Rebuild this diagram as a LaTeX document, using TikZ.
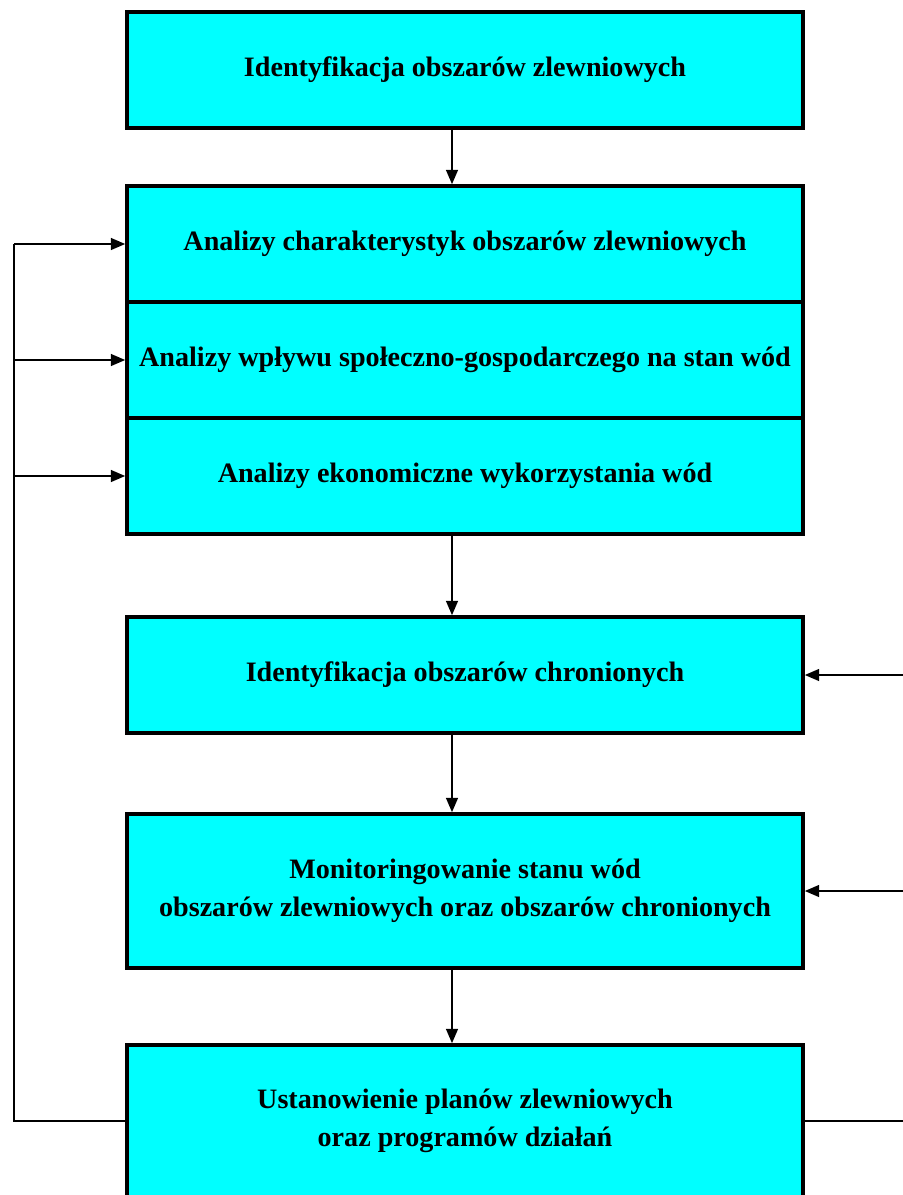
\documentclass[tikz,border=0pt]{standalone}
\usepackage{fontspec}
\setmainfont{Liberation Serif}
\usepackage{tikz}
\usetikzlibrary{arrows.meta, positioning, calc}
\definecolor{aqua}{RGB}{0,255,255}
\tikzset{
    stage/.style={
        rectangle, minimum width=16.9cm, minimum height=2.9cm,
        align=center, draw=black, fill=aqua, line width=2.6pt,
        font=\fontsize{20}{27}\selectfont\bfseries
    },
    flow/.style={
        line width=1.1pt, -{Triangle[length=0.36cm,width=0.3cm]}
    },
    straightline/.style = {line width = 1.1pt,-},
    point/.style={coordinate}
}
\begin{document}
\begin{tikzpicture}
        \clip (0,0) rectangle (22.575,-29.875);
        % stages
        \node [stage] (ident) at (11.625,-1.75) {Identyfikacja obszarów zlewniowych};
        \node [stage] (charakt) at (11.625,-6.1) {Analizy charakterystyk obszarów zlewniowych};
        \node [stage] (wplyw) at (11.625,-9.0) {Analizy wpływu społeczno-gospodarczego na stan wód};
        \node [stage] (ekonom) at (11.625,-11.9) {Analizy ekonomiczne wykorzystania wód};
        \node [stage] (chron) at (11.625,-16.875) {Identyfikacja obszarów chronionych};
        \node [stage, minimum height=3.85cm] (monit) at (11.625,-22.275) {Monitoringowanie stanu wód\\obszarów zlewniowych oraz obszarów chronionych};
        \node [stage, minimum height=3.8cm] (plany) at (11.625,-28.025) {Ustanowienie planów zlewniowych\\oraz programów działań};
        % helper points
        \node [point] (mid) at (11.3,0) {};
        \node [point] (lt) at (0.35,-6.1) {};
        \node [point] (rt) at (23.5,-16.875) {};
        % downward flow
        \draw [flow] (ident.south -| mid) -- (charakt.north -| mid);
        \draw [flow] (ekonom.south -| mid) -- (chron.north -| mid);
        \draw [flow] (chron.south -| mid) -- (monit.north -| mid);
        \draw [flow] (monit.south -| mid) -- (plany.north -| mid);
        % feedback left
        \draw [straightline] (plany.west) -| (lt);
        \draw [flow] (lt) -- (charakt.west);
        \draw [flow] (wplyw.west -| lt) -- (wplyw.west);
        \draw [flow] (ekonom.west -| lt) -- (ekonom.west);
        % feedback right
        \draw [straightline] (plany.east) -| (rt);
        \draw [flow] (rt) -- (chron.east);
        \draw [flow] (monit.east -| rt) -- (monit.east);
\end{tikzpicture}
\end{document}
